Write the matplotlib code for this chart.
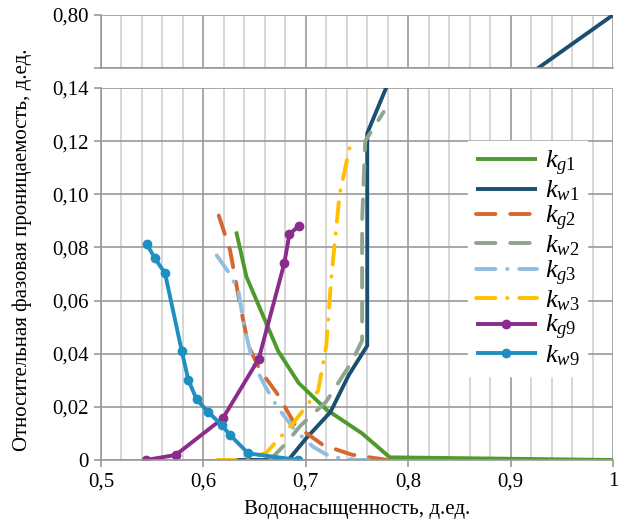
import numpy as np
import matplotlib
matplotlib.use("Agg")
import matplotlib.pyplot as plt
from matplotlib import font_manager
from matplotlib.ticker import MultipleLocator

_path = None
SERIF = "DejaVu Serif"
for _file, _name in [("LiberationSerif-Regular.ttf", "Liberation Serif"),
                     ("FreeSerif.ttf", "FreeSerif")]:
    _m = [f for f in font_manager.fontManager.ttflist if f.fname.split('/')[-1] == _file]
    if _m:
        _path, SERIF = _m[0].fname, _m[0].name
        break
plt.rcParams['font.family'] = [SERIF, 'DejaVu Serif']
plt.rcParams['mathtext.fontset'] = 'custom'
plt.rcParams['mathtext.rm'] = SERIF
plt.rcParams['mathtext.it'] = SERIF + ':italic'

def FP(size):
    if _path:
        return font_manager.FontProperties(fname=_path, size=size)
    return font_manager.FontProperties(family=SERIF, size=size)

# ---- data ----
kg1_x = [0.632, 0.642, 0.673, 0.693, 0.720, 0.755, 0.782, 1.0]
kg1_y = [0.086, 0.069, 0.041, 0.029, 0.019, 0.010, 0.001, 0.0]

kw1_x = [0.630, 0.683, 0.700, 0.724, 0.742, 0.760, 0.760, 0.800, 0.900, 1.0]
kw1_y = [0.0, 0.0, 0.008, 0.018, 0.032, 0.043, 0.123, 0.160, 0.526, 0.80]

kg2_x = [0.615, 0.626, 0.636, 0.644, 0.655, 0.672, 0.690, 0.717, 0.745, 0.780]
kg2_y = [0.092, 0.079, 0.058, 0.043, 0.034, 0.025, 0.013, 0.0056, 0.002, 0.0]

kw2_x = [0.665, 0.680, 0.695, 0.720, 0.745, 0.755, 0.755, 0.758, 0.776]
kw2_y = [0.0, 0.006, 0.013, 0.022, 0.037, 0.045, 0.090, 0.120, 0.131]

kg3_x = [0.613, 0.624, 0.634, 0.640, 0.648, 0.660, 0.672, 0.690, 0.707, 0.724, 0.750, 0.770]
kg3_y = [0.077, 0.071, 0.064, 0.050, 0.037, 0.028, 0.020, 0.011, 0.005, 0.0012, 0.0, 0.0]

kw3_x = [0.613, 0.645, 0.662, 0.688, 0.712, 0.720, 0.725, 0.733, 0.743]
kw3_y = [0.0, 0.0, 0.003, 0.014, 0.026, 0.043, 0.069, 0.100, 0.118]

kg9_x = [0.544, 0.573, 0.619, 0.654, 0.679, 0.684, 0.693]
kg9_y = [0.0, 0.0019, 0.0157, 0.038, 0.074, 0.085, 0.088]

kw9_x = [0.5446, 0.5527, 0.5625, 0.5788, 0.5853, 0.5934, 0.6048, 0.6179, 0.626, 0.6438, 0.6927]
kw9_y = [0.0813, 0.0759, 0.0703, 0.0411, 0.0301, 0.0228, 0.0180, 0.0132, 0.0094, 0.0025, 0.0]

x_ticks = [0.5, 0.6, 0.7, 0.8, 0.9, 1.0]
x_tick_labels = ["0,5", "0,6", "0,7", "0,8", "0,9", "1"]
y_ticks = [0, 0.02, 0.04, 0.06, 0.08, 0.10, 0.12, 0.14]
y_tick_labels = ["0", "0,02", "0,04", "0,06", "0,08", "0,10", "0,12", "0,14"]
top_ticks = [0.6, 0.8]
top_tick_labels = ["", "0,80"]

series = [
    (kg1_x, kg1_y, r"$k_{g\mathrm{1}}$", dict(color="#4f9a2c", ls="-")),
    (kw1_x, kw1_y, r"$k_{w\mathrm{1}}$", dict(color="#1b4f6f", ls="-")),
    (kg2_x, kg2_y, r"$k_{g\mathrm{2}}$", dict(color="#d6672e", dashes=(5, 3.8))),
    (kw2_x, kw2_y, r"$k_{w\mathrm{2}}$", dict(color="#8fa68e", dashes=(5, 3.8))),
    (kg3_x, kg3_y, r"$k_{g\mathrm{3}}$", dict(color="#8fbfe3", dashes=(5, 3.0, 0.1, 3.0))),
    (kw3_x, kw3_y, r"$k_{w\mathrm{3}}$", dict(color="#ffc000", dashes=(5, 3.0, 0.1, 3.0))),
    (kg9_x, kg9_y, r"$k_{g\mathrm{9}}$", dict(color="#8b2b8c", ls="-", marker="o", ms=6)),
    (kw9_x, kw9_y, r"$k_{w\mathrm{9}}$", dict(color="#1d8fc0", ls="-", marker="o", ms=6)),
]

W, H = 637, 520
fig = plt.figure(figsize=(W / 100, H / 100), dpi=100)
L, R = 101 / W, 613 / W
ax_top = fig.add_axes([L, 1 - 68 / H, R - L, (68 - 15) / H])
ax = fig.add_axes([L, 1 - 460 / H, R - L, (460 - 88) / H])

grid_major = "#9a9a9a"
grid_minor = "#cfcfcf"

for a in (ax_top, ax):
    a.set_xlim(0.5, 1.0)
    a.xaxis.set_minor_locator(MultipleLocator(0.02))
    a.set_xticks(x_ticks)
    a.grid(True, axis="x", which="minor", color=grid_minor, lw=1.2, zorder=0)
    a.grid(True, axis="x", which="major", color=grid_major, lw=1.2, zorder=0)
    a.grid(True, axis="y", which="major", color=grid_major, lw=1.2, zorder=0)
    for s in ("top", "right"):
        a.spines[s].set_visible(False)
    a.spines["left"].set_color(grid_major)
    a.spines["bottom"].set_color(grid_major)
    a.spines["left"].set_linewidth(1.2)
    a.spines["bottom"].set_linewidth(1.2)
    a.tick_params(axis="both", which="major", color=grid_major, length=5, width=1.2,
                  labelsize=15, pad=4)
    a.tick_params(axis="x", which="minor", length=0)
    a.set_axisbelow(True)

ax.set_xticklabels(x_tick_labels, fontproperties=FP(15))
ax.set_ylim(0, 0.14)
ax.set_yticks(y_ticks)
ax.set_yticklabels(y_tick_labels, fontproperties=FP(15))

ax_top.set_ylim(0.6, 0.8)
ax_top.set_yticks(top_ticks)
ax_top.set_yticklabels(top_tick_labels, fontproperties=FP(15))
ax_top.tick_params(axis="x", which="major", length=0, labelbottom=False)

handles = []
for xs, ys, lab, st in series:
    kw = dict(lw=2.8, label=lab, solid_capstyle="butt", dash_capstyle="round", clip_on=True)
    kw.update(st)
    h, = ax.plot(xs, ys, **kw)
    ax_top.plot(xs, ys, **{k: v for k, v in kw.items() if k != "label"})
    handles.append(h)

leg = ax.legend(handles=handles, loc="upper left", bbox_to_anchor=(0.717, 0.857),
                frameon=True, fancybox=False, framealpha=1, edgecolor="white",
                facecolor="white", fontsize=19, handlelength=2.3, handletextpad=0.3,
                labelspacing=0.02, borderpad=0.3, borderaxespad=0.0)
leg.set_zorder(5)

ax.set_xlabel("Водонасыщенность, д.ед.", fontproperties=FP(15), labelpad=6)
fig.text(22 / W, 1 - 250 / H, "Относительная фазовая проницаемость, д.ед.",
         rotation=90, ha="center", va="center", fontproperties=FP(15))

fig.savefig("out.png", dpi=100)
